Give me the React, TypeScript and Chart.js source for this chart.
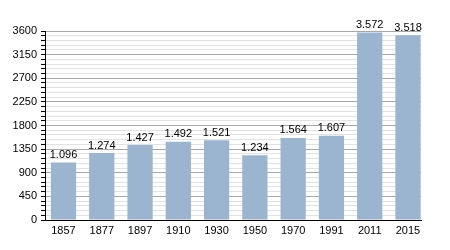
import React, { useEffect, useRef } from "react";
import { Chart, registerables } from "chart.js";

Chart.register(...registerables);

const years = ["1857", "1877", "1897", "1910", "1930", "1950", "1970", "1991", "2011", "2015"];
const population = [1096, 1274, 1427, 1492, 1521, 1234, 1564, 1607, 3572, 3518];
const yMax = 3600;
const majorStep = 450;
const minorStep = 90;

const fmt = (v: number) => {
  const s = String(v);
  return s.length > 3 ? s.slice(0, s.length - 3) + "." + s.slice(-3) : s;
};

const FONT = "'Liberation Sans', Arial, sans-serif";

const valueLabels = {
  id: "valueLabels",
  afterDatasetsDraw(chart: any) {
    const ctx = chart.ctx;
    const meta = chart.getDatasetMeta(0);
    ctx.save();
    ctx.font = "11px " + FONT;
    ctx.fillStyle = "#000";
    ctx.textAlign = "center";
    ctx.textBaseline = "bottom";
    meta.data.forEach((bar: any, i: number) => {
      ctx.fillText(fmt(population[i]), bar.x, bar.y - 2);
    });
    ctx.restore();
  },
};

export default function App() {
  const ref = useRef<HTMLCanvasElement>(null);
  useEffect(() => {
    if (!ref.current) return;
    const chart = new Chart(ref.current, {
      type: "bar",
      data: {
        datasets: [
          {
            data: population.map((y, i) => ({ x: i, y })),
            backgroundColor: "#9bb4cf",
            categoryPercentage: 0.66,
            barPercentage: 1,
          },
        ],
      },
      options: {
        responsive: false,
        animation: false,
        layout: { padding: { left: 0, right: 29, top: 31, bottom: 8 } },
        plugins: { legend: { display: false }, tooltip: { enabled: false } },
        scales: {
          x: {
            type: "linear",
            offset: false,
            min: -0.483,
            max: 9.34,
            grid: { display: false, drawTicks: false },
            border: { color: "#000", width: 1 },
            afterBuildTicks: (s: any) => {
              s.ticks = years.map((_, i) => ({ value: i }));
            },
            ticks: {
              color: "#000",
              font: { family: FONT, size: 11 },
              padding: 4,
              maxRotation: 0,
              autoSkip: false,
              callback: (v: any) => years[Number(v)] ?? "",
            },
            afterFit: (s: any) => {
              s.height = 22;
            },
          },
          y: {
            min: 0,
            max: yMax,
            border: { color: "#000", width: 1 },
            grid: {
              color: (c: any) =>
                c.tick && c.tick.value % majorStep === 0 ? "#a8a8a8" : "#e2e2e2",
              tickColor: "#000",
              tickLength: 4,
            },
            ticks: {
              stepSize: minorStep,
              autoSkip: false,
              color: "#000",
              font: { family: FONT, size: 11 },
              padding: 4,
              callback: (v: any) => (Number(v) % majorStep === 0 ? String(v) : ""),
            },
            afterFit: (s: any) => {
              s.width = 45;
            },
          },
        },
      },
      plugins: [valueLabels],
    });
    return () => chart.destroy();
  }, []);
  return (
    <div style={{ position: "absolute", left: 0, top: 0, width: 450, height: 250, background: "#fff" }}>
      <canvas ref={ref} width={450} height={250} />
    </div>
  );
}
